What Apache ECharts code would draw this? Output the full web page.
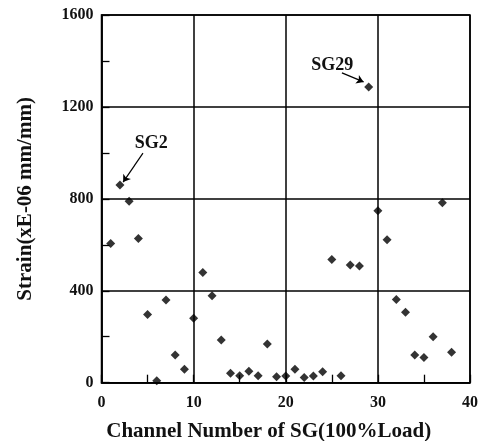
<!DOCTYPE html>
<html>
<head>
<meta charset="utf-8">
<script src="https://cdn.jsdelivr.net/npm/echarts@6/dist/echarts.min.js"></script>
<style>
  html, body { margin: 0; padding: 0; background: #fff; }
  #chart { width: 483px; height: 441px; }
</style>
</head>
<body>
<div id="chart"></div>
<script>
// channel numbers and measured strain (xE-06 mm/mm)
var channels = [1, 2, 3, 4, 5, 6, 7, 8, 9, 10, 11, 12, 13, 14, 15, 16, 17, 18, 19,
  20, 21, 22, 23, 24, 25, 26, 27, 28, 29, 30, 31, 32, 33, 34, 35, 36, 37, 38];
var strain = [606, 860, 790, 628, 297, 8, 360, 120, 58, 280, 480, 378, 186, 41, 30,
  50, 30, 168, 26, 29, 58, 23, 29, 48, 536, 30, 512, 508, 1287, 748, 622, 362, 307,
  120, 110, 200, 783, 132];

// annotation labels with arrow start/end (data coords)
var noteNames = ['SG2', 'SG29'];
var noteText = [[5.4, 1041], [25.05, 1381]];
var noteFrom = [[4.5, 999], [26.1, 1348]];
var noteTo = [[2.35, 873], [28.45, 1309]];

var font = "'Times New Roman', 'Liberation Serif', serif";

var points = channels.map(function (c, i) { return [c, strain[i]]; });

var arrowData = noteNames.map(function (n, i) {
  return [{ coord: noteFrom[i] }, { coord: noteTo[i] }];
});
var labelData = noteNames.map(function (n, i) {
  return { coord: noteText[i], value: n };
});

var myChart = echarts.init(document.getElementById('chart'));
var option = {
  animation: false,
  grid: {
    left: 101.5, right: 13, top: 15, bottom: 58.3,
    outerBoundsMode: 'none',
    show: true, borderColor: '#000', borderWidth: 1.5
  },
  xAxis: {
    type: 'value', min: 0, max: 40, interval: 10,
    name: 'Channel Number of SG(100%Load)',
    nameLocation: 'middle', nameGap: 38,
    nameTextStyle: { fontFamily: font, fontWeight: 'bold', fontSize: 21, color: '#111', padding: [0, 34, 0, 0] },
    axisLine: { show: true, lineStyle: { color: '#000', width: 1.5 } },
    axisTick: { show: true, inside: true, length: 8, lineStyle: { color: '#000', width: 1.3 } },
    minorTick: { show: true, splitNumber: 2, length: 8, lineStyle: { color: '#000', width: 1.3 } },
    axisLabel: { fontFamily: font, fontWeight: 'bold', fontSize: 16, color: '#111', margin: 12 },
    splitLine: { show: true, lineStyle: { color: '#000', width: 1.5 } }
  },
  yAxis: {
    type: 'value', min: 0, max: 1600, interval: 400,
    name: 'Strain(xE-06 mm/mm)',
    nameLocation: 'middle', nameGap: 65,
    nameTextStyle: { fontFamily: font, fontWeight: 'bold', fontSize: 21, color: '#111' },
    axisLine: { show: true, lineStyle: { color: '#000', width: 1.5 } },
    axisTick: { show: true, inside: true, length: 8, lineStyle: { color: '#000', width: 1.3 } },
    minorTick: { show: true, splitNumber: 2, length: 8, lineStyle: { color: '#000', width: 1.3 } },
    axisLabel: {
      fontFamily: font, fontWeight: 'bold', fontSize: 16, color: '#111', margin: 8,
      formatter: function (v) { return String(v); }
    },
    splitLine: { show: true, lineStyle: { color: '#000', width: 1.5 } }
  },
  series: [
    {
      type: 'scatter',
      data: points,
      symbol: 'diamond',
      symbolSize: 9,
      itemStyle: { color: '#000' },
      markLine: {
        silent: true,
        symbol: ['none', 'arrow'],
        symbolSize: 7,
        label: { show: false },
        lineStyle: { color: '#000', width: 1.2, type: 'solid' },
        data: arrowData
      },
      markPoint: {
        silent: true,
        symbol: 'circle',
        symbolSize: 0,
        label: {
          show: true, formatter: '{c}', position: 'inside',
          fontFamily: font, fontWeight: 'bold', fontSize: 18, color: '#111'
        },
        data: labelData
      }
    }
  ]
};
option && myChart.setOption(option);
</script>
</body>
</html>
